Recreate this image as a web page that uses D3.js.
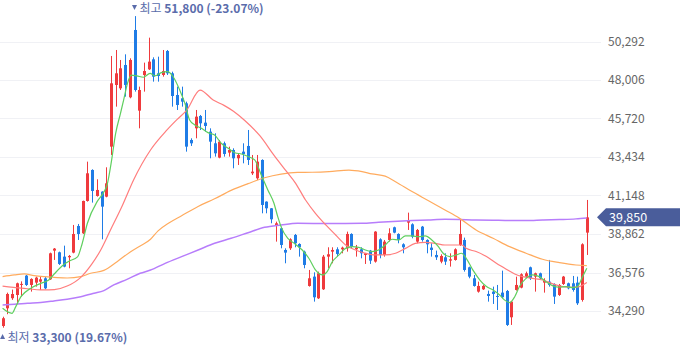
<!DOCTYPE html>
<html><head><meta charset="utf-8">
<script src="https://cdn.jsdelivr.net/npm/d3@7"></script>
<style>
html,body{margin:0;padding:0;background:#fff;}
svg{display:block;font-family:"Noto Sans CJK KR","Noto Sans",sans-serif;}
</style></head>
<body><svg id="c" width="680" height="358"></svg>
<script>
// ---- data ----
const openP = [
33400,34450,35050,35240,35850,36390,35836,35975,36034,36232,
36173,37875,37776,37518,37479,37756,39339,38904,40824,42664,
41120,41377,41080,44049,47710,47512,48898,46978,50976,46186,
48304,48640,49234,48403,48304,49729,48403,47116,46919,46622,
44445,45137,45870,45474,44940,44247,43396,44247,43693,43851,
43357,43752,44089,42466,42169,43258,40784,40388,39339,39200,
37914,38013,38805,38270,37815,35777,36331,35044,35579,37518,
37815,37954,37954,38013,38864,37954,37954,37617,37875,37222,
38547,37617,38508,39260,38864,38251,39537,39438,38409,39299,
38508,38053,37617,37222,37479,37281,37321,38211,38508,36885,
36232,35440,35579,35302,35440,35183,35381,35480,33917,35539,
35678,36331,36885,36331,36529,35975,36034,35895,35242,35895,
35935,35935,35975,34946,38943];
const closeP = [
33860,35300,35300,35935,35900,35836,36193,36272,36173,35638,
37716,37994,37083,36925,37558,38864,38864,40824,42466,41417,
41477,40487,41872,47809,48403,48700,47710,49195,47413,47413,
48541,49096,48205,48245,48541,48403,47057,46523,46721,44049,
44247,45830,45434,45276,44346,43653,44346,43614,43851,43357,
43554,43614,43258,42565,43158,40586,40388,39735,39497,38211,
37756,38547,38310,38073,37024,36232,35104,36529,37518,37657,
37914,37677,38053,38864,38112,38053,37716,37716,37281,39003,
37617,38409,38904,38943,38508,38073,39656,38706,39102,38508,
38251,37914,37479,37558,37222,37360,37954,38864,36727,36331,
35777,35777,35777,35183,35302,35143,35104,33462,34846,35836,
36470,36529,36232,36529,36232,36093,35836,35143,35836,36331,
35638,35539,34748,38251,39850];
const highP = [
33950,35380,35560,35975,36050,36430,36232,36331,36331,36331,
37757,38030,37815,38170,37617,39400,39458,40843,43158,42703,
42110,41400,42822,49432,49788,49195,49531,49293,51800,47611,
49036,50520,49353,49392,49788,49788,48502,47611,47611,46721,
44544,46226,45929,46226,45137,44841,44445,44346,44049,43950,
43653,44247,45039,43554,43554,43297,40800,40400,39596,39299,
38013,38607,38864,38310,37875,36727,36588,36628,37617,38073,
38073,38073,38112,39003,38904,38211,38073,37740,37914,39030,
38607,38508,39200,39299,38904,38310,40130,39497,39161,39339,
38547,38310,37875,37657,37716,37716,38013,39735,38647,36925,
36430,36034,35836,35500,35737,35836,36687,35539,34886,36331,
36529,36628,36925,36568,36568,36232,37321,35935,35895,36371,
35975,36371,36331,38310,40883];
const lowP = [
33300,34100,34950,34750,35150,35777,35440,35737,35539,35579,
36133,37321,37024,36885,36826,37716,38508,38864,40784,40725,
41080,38547,41041,43554,46424,47413,47017,46919,47315,45137,
47315,48600,47908,47908,48205,48304,46424,46226,46424,43752,
44089,44544,45039,44940,43357,43455,43357,43455,43455,42763,
42960,43059,42960,42367,42070,40091,40091,39497,38409,38013,
37123,37914,38073,37518,36826,35737,34846,35005,35539,36826,
37123,37518,37716,37815,38013,37518,37419,37083,37083,37162,
37419,37518,38409,38904,38310,37716,39102,38607,38310,38409,
37716,37518,37321,37123,37024,36925,37281,38152,36628,36232,
35737,35381,35539,34846,34708,34352,35044,33402,33462,35500,
35638,36232,36133,35440,36133,35381,35737,34708,35183,35836,
35579,35440,34649,34846,37617];

// moving averages: [candle index, value]
const ma5 = [[0,34450],[2,34150],[2.8,34550],[3.9,35140],[6,35640],[8.1,35930],[9.8,36130],[11,36500],[13,37050],[14.1,37250],[15.9,37500],[16.9,38300],[18,39500],[20.1,40800],[21.5,41350],[22.2,41800],[23,43000],[24,44840],[25,46000],[25.7,46820],[26.5,47800],[27.3,48300],[28.5,48250],[29.9,48170],[31.3,48400],
[32.3,48250],[33.7,48440],[35,48500],[36.2,48200],[37.6,47410],[38.7,46620],[39.7,45630],[40.8,45340],[42.2,45140],[43.6,44880],[45,44740],[46.4,44250],[48.2,43890],[49.3,43690],[50.7,43610],[52.1,43460],[53.5,43260],[54.9,42370],[56.3,41480],[57.6,40690],[58.4,39890],[59.1,39300],[60.5,38610],[61.9,38310],
[63.6,37910],[65,37420],[66.4,36730],[67.9,36430],[68.9,36630],[70,37220],[71.4,37620],[72.8,38010],[74.2,38110],[75.6,38070],[77,37910],[78.4,37820],[79.8,37910],[81.2,38210],[82.7,38550],[84.1,38510],[85.5,38750],[86.9,38750],[88.3,38700],[89.7,38750],[91.1,38510],[92.5,38110],
[93.5,37720],[94.9,37520],[96.3,37620],[97.4,37720],[98.4,37420],[99.8,36730],[101.3,36130],[102.7,35740],[104.1,35540],[105.5,35240],[106.5,34950],[107.6,34790],[108.7,35140],[109.7,35740],[111.1,36230],[112.5,36430],[113.9,36330],[115.3,36030],[116.8,35780],[118.2,35700],[119.6,35740],[121,35680],[122,35740],[123.1,36330],[124,36830]];
const ma20 = [[0,35770],[4,35650],[8.7,35540],[11,35560],[13.7,35770],[16.6,36290],[19,37100],[20.8,37900],[22.9,39100],[25.5,40600],[27.8,42070],[31.4,43850],[34.9,45040],[37,45650],[39.1,46220],[41.9,47410],[44.7,46820],[47,46500],[49,46150],[51.4,45600],[54.6,44700],[57.7,43500],[60.3,42560],[62.2,41870],[64.3,40880],[66.4,40090],[68.6,39400],[70.7,38800],[72.8,38210],[74.9,37910],[77,37720],[79.1,37620],[81.2,37620],[83.4,37720],[85.5,38010],[87.6,38310],[89.7,38370],[91.8,38310],[93.9,38210],[96,38210],[97.5,38210],[98.4,38010],[100.5,37820],[102.7,37520],[104.8,37120],[106.9,36770],[108.7,36490],[110.4,36330],[112.5,36230],[114.6,36130],[116.8,35900],[118.9,35740],[121,35700],[122.4,35740],[124,35980]];
const ma60 = [[0,36330],[2.5,36430],[4.6,36490],[6.7,36390],[8.8,36330],[10.9,36290],[13.7,36250],[16.6,36330],[18.7,36530],[21.5,36700],[24.3,37220],[27.1,37800],[29.2,38150],[31.4,38550],[33,39050],[35.2,39500],[38,39950],[41.5,40500],[45,40950],[48.5,41450],[52.1,41850],[55.6,42200],[59.1,42420],[62.6,42520],[65.7,42530],[69.3,42570],[73.5,42660],[76.3,42570],[78.4,42430],[81.2,42300],[83.4,41970],[86.9,41380],[90.4,40840],[93.9,40290],[97,39790],[100.5,39100],[104.1,38610],[107.6,38110],[111.1,37720],[114.6,37360],[118.2,37160],[121.7,37020],[124,36980]];
const ma120 = [[0,34650],[2.5,34690],[5.3,34750],[8.1,34800],[10.9,34890],[13.7,34990],[16.6,35140],[19.4,35340],[21.5,35500],[23.6,35840],[26.4,36170],[29.2,36530],[31.4,36720],[34.5,37120],[38,37520],[41.5,37910],[45,38310],[48.5,38610],[52.1,38940],[55.6,39260],[59.1,39400],[62.6,39500],[69.3,39480],[76.3,39500],[79.8,39560],[86.9,39660],[90.4,39700],[93.9,39735],[100.5,39700],[104.1,39680],[107.6,39660],[111.1,39660],[114.6,39690],[118.2,39720],[121.7,39760],[124,39810]];

const yTicks = [34290,36576,38862,41148,43434,45720,48006,50292];
const highNote = {label:"최고", value:"51,800", pct:"(-23.07%)"};
const lowNote = {label:"최저", value:"33,300", pct:"(19.67%)"};

// ---- drawing ----
const N = closeP.length;
const svg = d3.select("#c");
const x = d3.scaleBand().domain(d3.range(N)).range([-0.6, 590]).padding(0.35);
const xc = d3.scaleLinear().domain([0, N-1]).range([x(0)+x.bandwidth()/2, x(N-1)+x.bandwidth()/2]);
const y = d3.scaleLinear().domain([34290, 50292]).range([311, 41.5]);

// grid
svg.append("g").selectAll("line").data(yTicks).join("line")
  .attr("x1",0).attr("x2",601)
  .attr("y1",d=>Math.round(y(d))+0.5).attr("y2",d=>Math.round(y(d))+0.5)
  .attr("stroke","#f0f1f5").attr("stroke-width",1);

// axis labels
const ax = svg.append("g").attr("transform","translate(604,0)")
  .call(d3.axisRight(y).tickValues(yTicks).tickSize(0).tickPadding(4).tickFormat(d3.format(",")));
ax.select(".domain").remove();
ax.selectAll("text").attr("fill","#666").style("font-size","12px")
  .style("font-family","'Noto Sans CJK KR','Noto Sans',sans-serif");

const RED="#ef3a3d", BLUE="#1f7ce6";
const data = d3.range(N).map(i=>({i,o:openP[i],h:highP[i],l:lowP[i],c:closeP[i]}));
const cg = svg.append("g");
cg.selectAll("line").data(data).join("line")
  .attr("x1",d=>Math.round(xc(d.i))+0.5).attr("x2",d=>Math.round(xc(d.i))+0.5)
  .attr("y1",d=>y(d.h)).attr("y2",d=>y(d.l))
  .attr("stroke",d=>d.c>=d.o?RED:BLUE).attr("stroke-width",1);
cg.selectAll("rect").data(data).join("rect")
  .attr("x",d=>Math.round(xc(d.i))-1)
  .attr("width",3)
  .attr("y",d=>y(Math.max(d.o,d.c)))
  .attr("height",d=>Math.max(1, Math.abs(y(d.o)-y(d.c))))
  .attr("fill",d=>d.c>=d.o?RED:BLUE);

const line = d3.line().x(d=>xc(d[0])).y(d=>y(d[1])).curve(d3.curveMonotoneX);
const maDefs = [[ma120,"#b77dfb",1.5],[ma60,"#ffab5e",1.2],[ma20,"#ff7d7d",1.2],[ma5,"#5fcf5f",1.2]];
maDefs.forEach(([d,col,w])=>{
  svg.append("path").attr("d",line(d)).attr("fill","none").attr("stroke",col).attr("stroke-width",w);
});

// current price tag
const lastC = closeP[N-1];
const ty = y(lastC);
svg.append("path")
  .attr("d",`M597,${ty} L606,${ty-9} L680,${ty-9} L680,${ty+9} L606,${ty+9} Z`)
  .attr("fill","#4a5d9b");
svg.append("text").attr("x",609).attr("y",ty+4.5).attr("fill","#fff")
  .style("font-size","12.5px").text(d3.format(",")(lastC));

// high / low notes
const hi = d3.maxIndex(highP), lo = d3.minIndex(lowP);
const NOTE="#5a6cab";
function note(ix, ty, down, info){
  const cx = xc(ix);
  const tri = down ? `M${cx-2.5},${ty-3} L${cx+2.5},${ty-3} L${cx},${ty+2} Z`
                   : `M${cx-2.5},${ty+2} L${cx+2.5},${ty+2} L${cx},${ty-3} Z`;
  svg.append("path").attr("d",tri).attr("fill",NOTE);
  const t = svg.append("text").attr("x",cx+5).attr("y",ty+4.5).style("font-size","12px").attr("fill",NOTE);
  t.append("tspan").text(info.label+" ");
  t.append("tspan").attr("font-weight","bold").text(info.value+" "+info.pct);
}
note(hi, 8, true, highNote);
note(lo, 337, false, lowNote);
</script></body></html>
